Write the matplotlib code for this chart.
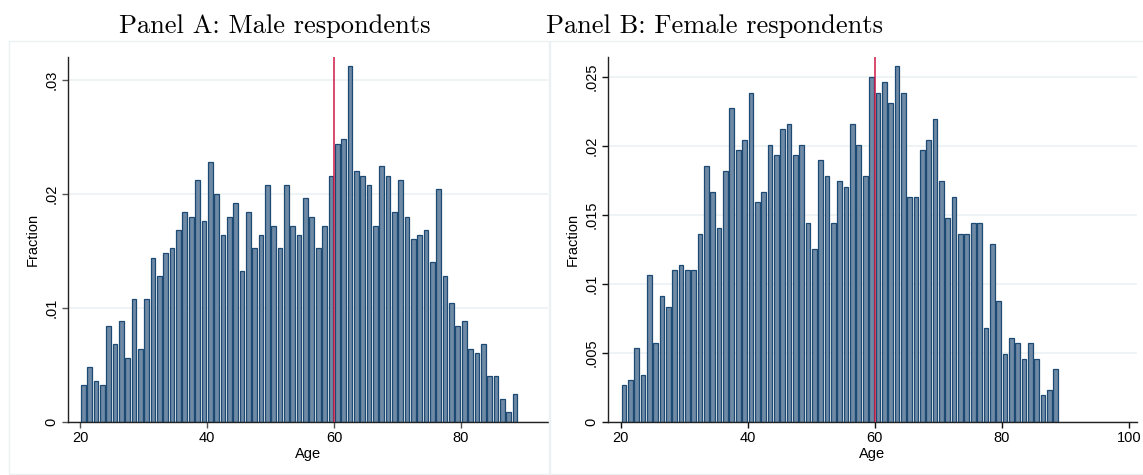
import numpy as np
import matplotlib.pyplot as plt
from matplotlib.patches import Rectangle

# age bins (1 year wide, left edge)
ages = np.arange(20, 89)

# respondents per age
male_counts = np.array([
    8, 12, 9, 8, 21, 17, 22, 14, 27, 16,
    27, 36, 32, 37, 38, 42, 46, 45, 53, 44,
    57, 50, 41, 45, 48, 33, 46, 38, 41, 52,
    43, 38, 52, 43, 41, 49, 45, 38, 43, 54,
    61, 62, 78, 55, 54, 52, 43, 56, 54, 46,
    53, 45, 40, 41, 42, 35, 51, 32, 26, 21,
    22, 16, 15, 17, 10, 10, 5, 2, 6])
female_counts = np.array([
    7, 8, 14, 9, 28, 15, 24, 22, 29, 30,
    29, 29, 36, 49, 44, 37, 48, 60, 52, 54,
    63, 42, 44, 53, 51, 56, 57, 51, 53, 38,
    33, 50, 47, 38, 46, 45, 57, 53, 47, 66,
    63, 65, 61, 68, 63, 43, 43, 52, 54, 58,
    46, 39, 43, 36, 36, 38, 38, 18, 34, 23,
    13, 16, 15, 12, 15, 12, 5, 6, 10])

cutoff_age = 60

male_yticks = [0, 0.01, 0.02, 0.03]
male_ylabels = ["0", ".01", ".02", ".03"]
female_yticks = [0, 0.005, 0.01, 0.015, 0.02, 0.025]
female_ylabels = ["0", ".005", ".01", ".015", ".02", ".025"]
male_xticks = [20, 40, 60, 80]
female_xticks = [20, 40, 60, 80, 100]

fill = "#6e8aa5"
edge = "#1c4a73"
red = "#d01a45"
grid = "#eaf1f3"

plt.rcParams["font.family"] = ["Liberation Sans", "DejaVu Sans"]

W, H = 1143, 475
fig = plt.figure(figsize=(W / 100, H / 100), dpi=100)

# light frames around each sub-graph
fig.add_artist(Rectangle((9 / W, 1 / H), 540 / W, 433 / H, transform=fig.transFigure,
                         fill=False, edgecolor="#ebf0f2", lw=1))
fig.add_artist(Rectangle((550 / W, 1 / H), 600 / W, 433 / H, transform=fig.transFigure,
                         fill=False, edgecolor="#ebf0f2", lw=1))


def panel(rect, counts, xlim, ylim, xticks, yticks, ylabels, tickcol):
    ax = fig.add_axes(rect)
    frac = counts / counts.sum()
    ax.bar(ages + 0.5, frac, width=0.74, color=fill, edgecolor=edge, linewidth=0.9, zorder=2)
    ax.axvline(cutoff_age, color=red, lw=1.1, zorder=3)
    ax.set_xlim(*xlim)
    ax.set_ylim(*ylim)
    ax.set_xticks(xticks)
    ax.set_yticks(yticks)
    ax.set_yticklabels(ylabels, rotation=90, va="center")
    ax.yaxis.grid(True, color=grid, lw=1.1)
    ax.set_axisbelow(True)
    for s in ["top", "right"]:
        ax.spines[s].set_visible(False)
    for s in ["left", "bottom"]:
        ax.spines[s].set_color("#222222")
        ax.spines[s].set_linewidth(1.0)
    ax.tick_params(direction="out", length=4, width=1, color=tickcol, labelsize=10.5, pad=3)
    ax.set_xlabel("Age", fontsize=10.5, labelpad=1)
    ax.set_ylabel("Fraction", fontsize=10.5, labelpad=3)
    return ax


panel([68 / W, 53.5 / H, 480 / W, 364.5 / H], male_counts, (18.1, 93.7), (0, 0.0320),
      male_xticks, male_yticks, male_ylabels, "#555555")
panel([608 / W, 53.5 / H, 529 / W, 364.5 / H], female_counts, (18.0, 101.3), (0, 0.02645),
      female_xticks, female_yticks, female_ylabels, "#111111")

fig.text(275 / W, 1 - 26 / H, "Panel A: Male respondents", ha="center", va="center",
         family="cmr10", fontsize=19)
fig.text(715 / W, 1 - 26 / H, "Panel B: Female respondents", ha="center", va="center",
         family="cmr10", fontsize=19)

fig.savefig("out.png", dpi=100)
